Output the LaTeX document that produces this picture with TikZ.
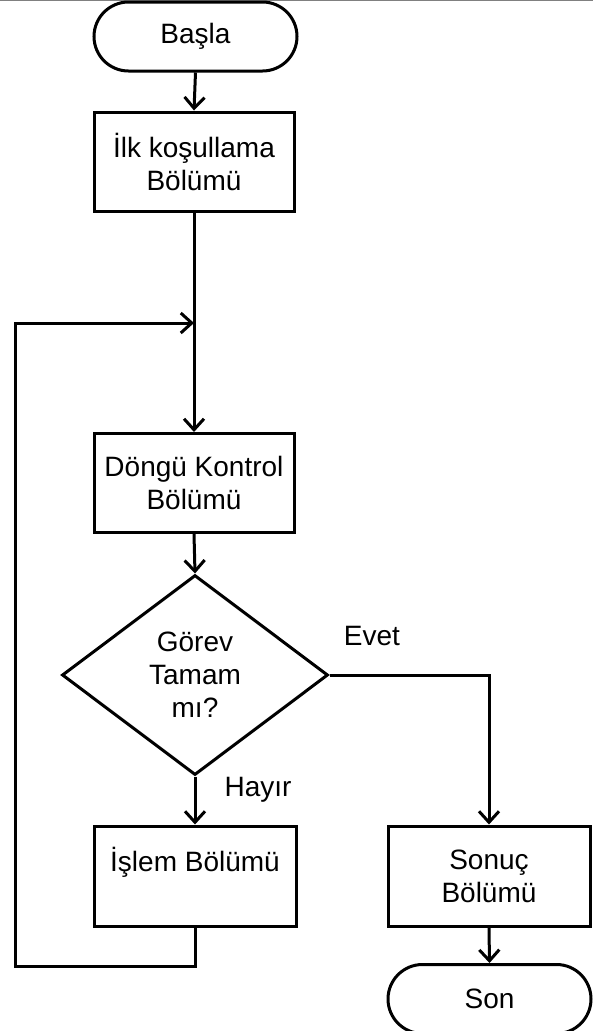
\documentclass[tikz,border=0pt]{standalone}
\usepackage{fontspec}
\setmainfont{Liberation Sans}
\usetikzlibrary{shapes.geometric,shapes.misc,arrows.meta}
\begin{document}
\begin{tikzpicture}[x=1pt,y=-1pt,
  every node/.style={font=\fontsize{28}{33}\selectfont},
  conn/.style={line width=3pt},
  arr/.style={conn,-{Straight Barb[length=11pt,width=20pt,line width=3pt]}},
  procbox/.style={draw,line width=3pt,rectangle,minimum width=200pt,minimum height=99pt,inner sep=0pt,align=center},
  termbox/.style={draw,line width=3pt,rounded rectangle,minimum width=203pt,minimum height=69pt,inner sep=0pt},
  decbox/.style={draw,line width=3pt,diamond,minimum width=266pt,minimum height=200pt,inner sep=0pt,align=center},
  lbl/.style={inner sep=0pt}]
\useasboundingbox (0,0) rectangle (593,1031);
\draw[gray,line width=0.8pt] (0,0.4) -- (593,0.4);

\node[termbox] (start) at (195.5,36.5) {Başla};
\node[procbox] (init) at (194,161.5) {İlk koşullama\\Bölümü};
\node[procbox] (ctrl) at (194,483) {Döngü Kontrol\\Bölümü};
\node[decbox] (dec) at (195,675) {Görev\\Tamam\\mı?};
\node[procbox,minimum width=202pt,minimum height=100pt] (proc) at (195,876) {İşlem Bölümü\\\phantom{B}};
\node[procbox,minimum width=202pt,minimum height=100pt] (res) at (489,876) {Sonuç\\Bölümü};
\node[termbox] (stop) at (489.5,999) {Son};

\node[lbl] (evet) at (372,636) {Evet};
\node[lbl] (hayir) at (258,790) {Hayır};

\coordinate (merge) at (194,323);
\coordinate (loopA) at (195,966);
\coordinate (loopB) at (15,966);
\coordinate (loopC) at (15,323);

\draw[arr] (start.south) -- (init.north);
\draw[arr] (init.south) -- (ctrl.north);
\draw[arr] (ctrl.south) -- (dec.north);
\draw[arr] (dec.south) -- (dec.south |- proc.north);
\draw[arr] (dec.east) -| (res.north);
\draw[arr] (res.south) -- (stop.north);
\draw[arr] (proc.south) -- (loopA) -- (loopB) -- (loopC) -- (merge);
\end{tikzpicture}
\end{document}
